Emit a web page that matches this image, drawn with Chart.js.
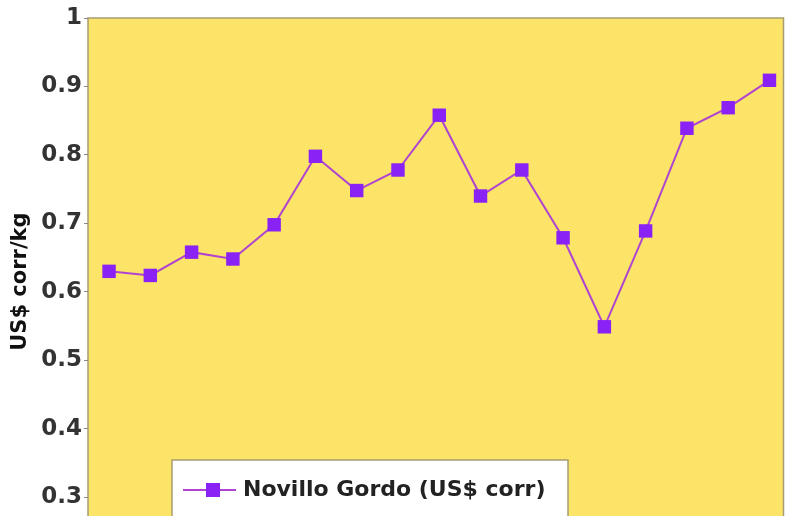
<!DOCTYPE html>
<html>
<head>
<meta charset="utf-8">
<script src="https://cdn.jsdelivr.net/npm/chart.js@4.4.0/dist/chart.umd.min.js"></script>
<style>
  html, body { margin: 0; padding: 0; background: #fff; overflow: hidden; }
  #wrap { position: relative; width: 793px; height: 561px; }
</style>
</head>
<body>
<div id="wrap"><canvas id="chartNovillo"></canvas></div>
<script>
// ─── DATOS ───────────────────────────────────────────────────────────────────
const periodos = ['1', '2', '3', '4', '5', '6', '7', '8', '9', '10', '11', '12', '13', '14', '15', '16', '17'];
const novilloGordo = [0.63, 0.624, 0.658, 0.648, 0.698, 0.798, 0.748, 0.778, 0.858, 0.74, 0.778, 0.679, 0.549, 0.689, 0.839, 0.869, 0.909];
const yTicks = [0.3, 0.4, 0.5, 0.6, 0.7, 0.8, 0.9, 1];

const serieLabel = 'Novillo Gordo (US$ corr)';
const ejeY = 'US$ corr/kg';

const LINE = '#b044d0';
const MARK = '#8a22f6';
const PLOT_BG = '#fbe468';
const FONT = "'DejaVu Sans', 'Liberation Sans', Arial, sans-serif";

Chart.defaults.font.family = FONT;

// fondo amarillo del área de trazado
const plotBg = {
  id: 'plotBg',
  beforeDraw(chart) {
    const { ctx, chartArea: a } = chart;
    ctx.save();
    ctx.fillStyle = PLOT_BG;
    ctx.fillRect(a.left, a.top, a.right - a.left, a.bottom - a.top);
    ctx.strokeStyle = '#a89c70';
    ctx.lineWidth = 1.5;
    ctx.strokeRect(a.left, a.top, a.right - a.left, a.bottom - a.top);
    ctx.restore();
  }
};

// leyenda en recuadro blanco dentro del gráfico
const boxLegend = {
  id: 'boxLegend',
  afterDraw(chart) {
    const { ctx } = chart;
    const ds = chart.data.datasets[0];
    const x = 172, y = 460, w = 396, h = 70;
    ctx.save();
    ctx.fillStyle = '#ffffff';
    ctx.fillRect(x, y, w, h);
    ctx.strokeStyle = '#a89c70';
    ctx.lineWidth = 1.5;
    ctx.strokeRect(x, y, w, h);
    const cy = 490;
    ctx.strokeStyle = ds.borderColor;
    ctx.lineWidth = 2;
    ctx.beginPath();
    ctx.moveTo(183, cy);
    ctx.lineTo(236, cy);
    ctx.stroke();
    ctx.fillStyle = ds.pointBackgroundColor;
    ctx.fillRect(213 - 7, cy - 7, 14, 14);
    ctx.fillStyle = '#222';
    ctx.font = 'bold 22px ' + FONT;
    ctx.textBaseline = 'middle';
    ctx.fillText(ds.label, 243, cy);
    ctx.restore();
  }
};

new Chart(document.getElementById('chartNovillo'), {
  type: 'line',
  data: {
    labels: periodos,
    datasets: [{
      label: serieLabel,
      data: novilloGordo.map((v, i) => ({ x: i, y: v })),
      borderColor: LINE,
      borderWidth: 2,
      pointStyle: 'rect',
      pointRadius: 9.5,
      pointBackgroundColor: MARK,
      pointBorderColor: MARK,
      pointBorderWidth: 0,
      tension: 0,
      fill: false,
      clip: false,
    }]
  },
  options: {
    responsive: true, maintainAspectRatio: false,
    animation: false,
    layout: { padding: { top: 18, right: 0, bottom: 0, left: 0 } },
    plugins: {
      legend: { display: false },
      tooltip: { enabled: false },
    },
    scales: {
      x: { type: 'linear', display: false, min: -0.51, max: 16.34 },
      y: {
        min: 0.23, max: 1,
        afterBuildTicks: s => { s.ticks = yTicks.map(v => ({ value: v })); },
        afterFit: s => { s.width = 88; },
        border: { display: false },
        grid: { drawOnChartArea: false, tickLength: 4, color: '#888' },
        ticks: {
          color: '#333',
          padding: 2,
          font: { size: 23, weight: 'bold' },
          callback: v => String(v),
        },
        title: {
          display: true, text: ejeY, color: '#111', padding: { top: 8, bottom: 0 },
          font: { size: 21, weight: 'bold' },
        },
      },
    },
  },
  plugins: [plotBg, boxLegend],
});
</script>
</body>
</html>
